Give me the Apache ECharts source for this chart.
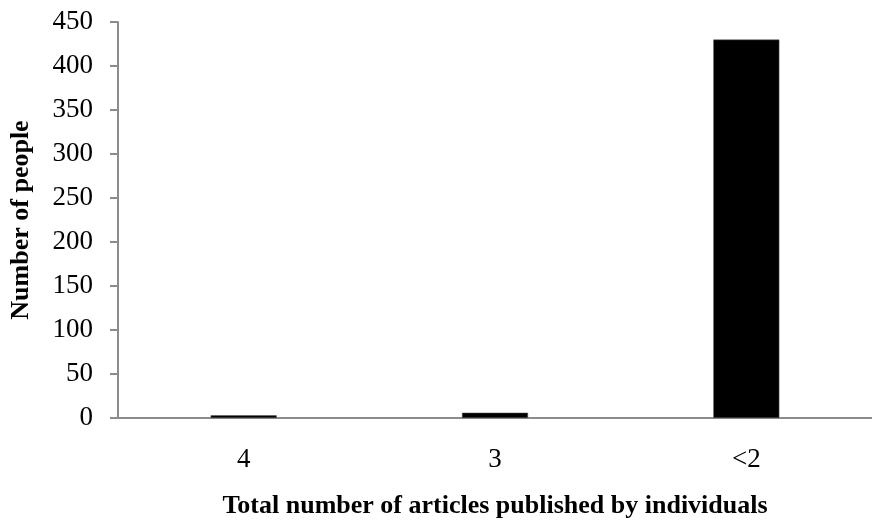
<!DOCTYPE html>
<html>
<head>
<meta charset="utf-8">
<script src="https://cdn.jsdelivr.net/npm/echarts@6/dist/echarts.min.js"></script>
<style>html,body{margin:0;padding:0;background:#fff;}#c{width:872px;height:524px;}</style>
</head>
<body>
<div id="c"></div>
<script>
const categories = ['4', '3', '<2'];
const people = [3, 6, 430];
const yTicks = { min: 0, max: 450, interval: 50 };

const chart = echarts.init(document.getElementById('c'));
const font = '"Liberation Serif", "Times New Roman", serif';
chart.setOption({
  animation: false,
  backgroundColor: '#ffffff',
  grid: { left: 117, top: 22, width: 767, height: 400, containLabel: false },
  xAxis: {
    type: 'category',
    data: categories,
    axisLine: { lineStyle: { color: '#8c8c8c', width: 2 } },
    axisTick: { show: false },
    axisLabel: { color: '#000', fontFamily: font, fontSize: 27, margin: 28 },
    name: 'Total number of articles published by individuals',
    nameLocation: 'middle',
    nameGap: 75,
    nameTextStyle: { color: '#000', fontFamily: font, fontSize: 26, fontWeight: 'bold' }
  },
  yAxis: {
    type: 'value',
    min: yTicks.min, max: yTicks.max, interval: yTicks.interval,
    axisLine: { show: true, lineStyle: { color: '#8c8c8c', width: 2 } },
    axisTick: { show: true, length: 8, lineStyle: { color: '#8c8c8c', width: 2 } },
    splitLine: { show: false },
    axisLabel: { color: '#000', fontFamily: font, fontSize: 27, margin: 25 },
    name: 'Number of people',
    nameLocation: 'middle',
    nameGap: 84,
    nameRotate: 90,
    nameTextStyle: { color: '#000', fontFamily: font, fontSize: 26, fontWeight: 'bold' }
  },
  series: [{
    type: 'bar',
    data: people,
    barWidth: 66,
    itemStyle: { color: '#000', borderColor: '#555', borderWidth: 0.5 }
  }]
});
</script>
</body>
</html>
